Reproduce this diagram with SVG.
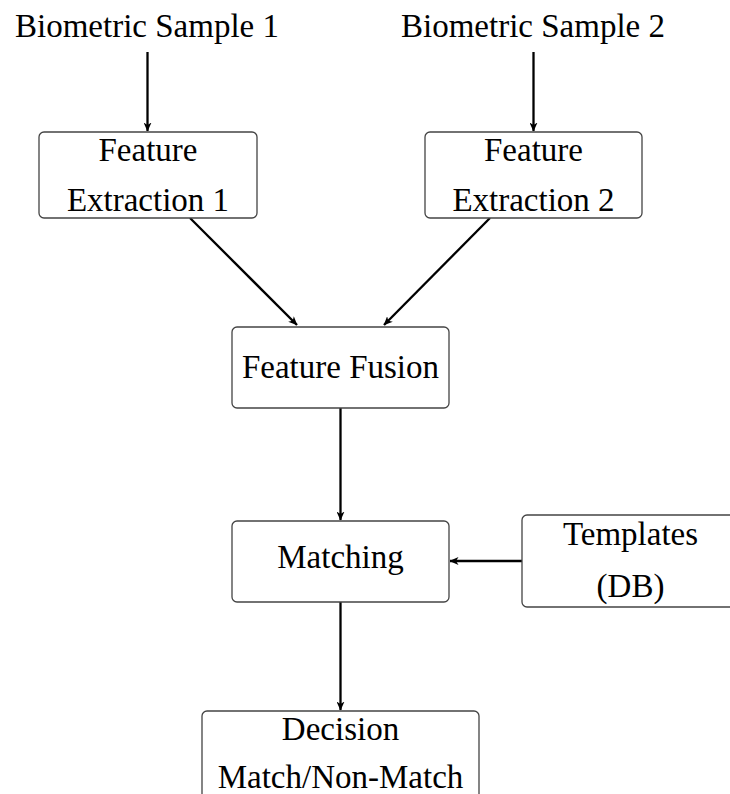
<svg xmlns="http://www.w3.org/2000/svg" width="730" height="794" viewBox="0 0 730 794">
  <style>
    .box { fill: #ffffff; stroke: #444444; stroke-width: 1.3; }
    .lbl { font-family: "Liberation Serif", "Times New Roman", serif; font-size: 33px; fill: #000000; text-anchor: middle; }
    .edge { fill: none; stroke: #000000; stroke-width: 2.3; marker-end: url(#arrow); }
  </style>
  <defs>
    <marker id="arrow" markerUnits="userSpaceOnUse" viewBox="0 0 9 8" refX="8.5" refY="4" markerWidth="9" markerHeight="8" orient="auto">
      <path d="M0,0 L9,4 L0,8 L2.5,4 z" fill="#000000"/>
    </marker>
  </defs>

  <rect width="730" height="794" fill="#ffffff"/>

  <!-- connectors -->
  <g id="connectors">
    <line class="edge" x1="147.5" y1="52" x2="147.5" y2="131"/>
    <line class="edge" x1="533.5" y1="52" x2="533.5" y2="131"/>
    <line class="edge" x1="190" y1="218" x2="297" y2="325"/>
    <line class="edge" x1="490" y1="218" x2="384" y2="325"/>
    <line class="edge" x1="340.5" y1="408" x2="340.5" y2="520"/>
    <line class="edge" x1="522" y1="561" x2="450" y2="561"/>
    <line class="edge" x1="340.5" y1="602" x2="340.5" y2="710"/>
  </g>

  <!-- nodes -->
  <g id="sample1">
    <text class="lbl" x="147" y="37">Biometric Sample 1</text>
  </g>
  <g id="sample2">
    <text class="lbl" x="533" y="37">Biometric Sample 2</text>
  </g>
  <g id="extraction1">
    <rect class="box" x="39" y="132" width="218" height="86" rx="5"/>
    <text class="lbl" x="148" y="161">Feature</text>
    <text class="lbl" x="148" y="211">Extraction 1</text>
  </g>
  <g id="extraction2">
    <rect class="box" x="425" y="132" width="217" height="86" rx="5"/>
    <text class="lbl" x="533.5" y="161">Feature</text>
    <text class="lbl" x="533.5" y="211">Extraction 2</text>
  </g>
  <g id="fusion">
    <rect class="box" x="232" y="327" width="217" height="81" rx="5"/>
    <text class="lbl" x="340.5" y="378">Feature Fusion</text>
  </g>
  <g id="matching">
    <rect class="box" x="232" y="521" width="217" height="81" rx="5"/>
    <text class="lbl" x="340.5" y="568">Matching</text>
  </g>
  <g id="templates">
    <rect class="box" x="522" y="515" width="217" height="92" rx="5"/>
    <text class="lbl" x="630.5" y="545">Templates</text>
    <text class="lbl" x="630.5" y="597">(DB)</text>
  </g>
  <g id="decision">
    <rect class="box" x="202" y="711" width="277" height="100" rx="5"/>
    <text class="lbl" x="340.5" y="740">Decision</text>
    <text class="lbl" x="340.5" y="788">Match/Non-Match</text>
  </g>
</svg>
